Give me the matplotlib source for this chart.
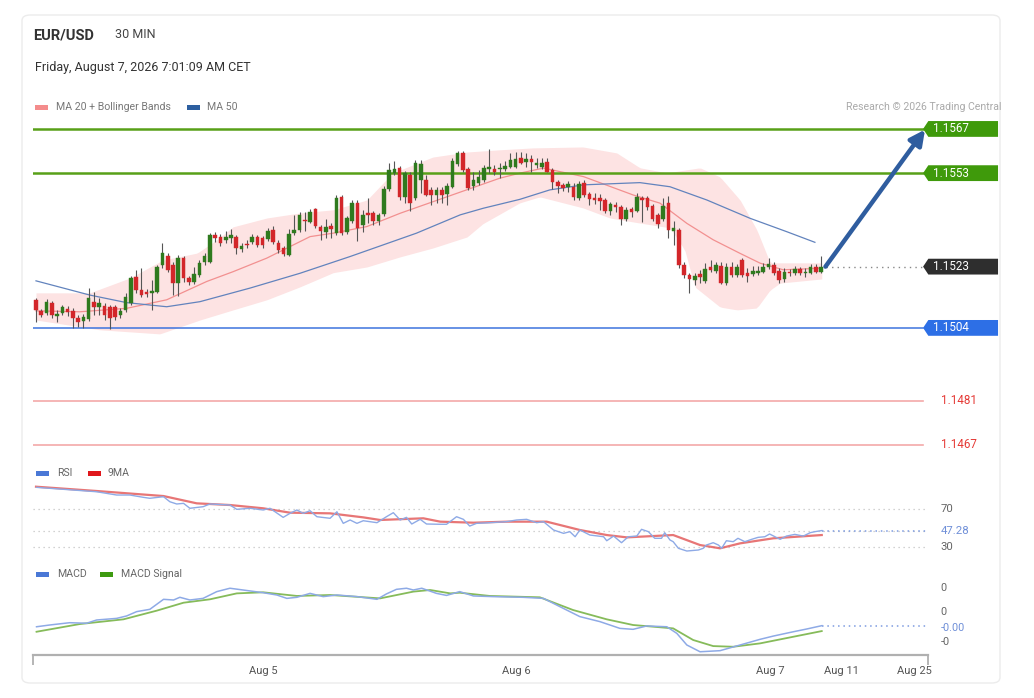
import numpy as np
import matplotlib
matplotlib.use("Agg")
import matplotlib.pyplot as plt
from matplotlib.path import Path
from matplotlib.patches import Rectangle, FancyBboxPatch

plt.rcParams['font.family'] = ['Roboto', 'DejaVu Sans']

# candle data, offsets in pips above 1.1500 (30 min bars, index 0..149)
opens = [12.9, 9.2, 8.8, 12.0, 7.9, 8.7, 10.0, 9.5, 7.2, 6.3, 6.8, 12.3, 10.5, 10.9, 10.5, 10.6, 8.1, 9.7, 12.0, 20.2,
         16.0, 15.5, 15.1, 15.5, 24.0, 26.8, 24.0, 18.2, 26.1, 19.7, 18.6, 20.8, 24.9, 25.0, 33.4, 32.7, 31.9, 32.4, 32.7, 28.9,
         30.7, 31.3, 32.7, 32.4, 32.1, 35.0, 31.0, 29.2, 27.1, 34.0, 35.0, 38.3, 37.6, 41.6, 35.9, 34.5, 36.3, 34.2, 45.4, 34.5,
         38.0, 43.7, 36.6, 40.4, 40.3, 38.0, 40.1, 47.9, 53.0, 54.6, 45.6, 52.4, 45.1, 50.9, 50.9, 47.7, 46.1, 47.7, 46.4, 48.7,
         55.9, 59.3, 54.2, 49.0, 49.8, 50.9, 54.3, 54.2, 54.2, 54.2, 55.1, 55.1, 57.7, 56.6, 57.4, 55.6, 55.1, 56.6, 54.0, 50.3,
         49.3, 48.5, 48.7, 45.1, 49.8, 46.4, 45.1, 45.1, 44.5, 41.1, 42.9, 42.4, 38.4, 41.6, 41.1, 45.1, 45.1, 42.6, 39.8, 38.4,
         43.5, 34.8, 35.0, 23.9, 20.8, 19.2, 21.1, 19.0, 23.2, 22.1, 23.6, 18.2, 23.2, 20.8, 25.5, 21.5, 21.1, 21.5, 21.8, 23.2,
         23.9, 22.1, 19.4, 21.8, 21.5, 22.6, 21.5, 21.5, 23.2, 21.8]
highs = [13.5, 10.0, 13.2, 12.5, 9.7, 11.3, 11.0, 10.3, 8.1, 8.4, 16.7, 15.4, 13.5, 11.9, 11.3, 11.3, 10.3, 15.1, 20.4, 22.4,
         23.0, 16.3, 19.2, 24.0, 30.9, 27.7, 24.9, 27.1, 26.8, 20.5, 23.3, 25.5, 27.7, 34.1, 34.4, 33.8, 34.7, 35.3, 33.4, 30.9,
         31.9, 33.8, 33.4, 33.1, 35.7, 36.3, 31.9, 29.9, 35.3, 39.8, 40.7, 40.7, 41.7, 42.0, 36.6, 38.5, 37.2, 46.1, 46.1, 39.4,
         44.5, 44.5, 41.4, 45.2, 41.0, 40.4, 48.9, 56.2, 56.9, 55.3, 53.7, 53.4, 57.2, 57.2, 52.4, 48.6, 48.6, 48.6, 49.9, 57.8,
         60.0, 60.0, 55.0, 53.4, 54.0, 55.6, 60.7, 55.6, 56.2, 56.9, 59.4, 59.7, 59.7, 59.4, 58.8, 57.8, 57.8, 57.8, 54.6, 50.9,
         49.9, 50.5, 49.9, 50.5, 50.9, 47.0, 46.7, 46.4, 45.2, 43.9, 43.9, 42.9, 42.3, 42.3, 46.7, 45.8, 45.8, 43.2, 40.4, 45.1,
         45.8, 37.9, 35.7, 24.9, 21.4, 21.4, 22.4, 24.6, 25.5, 24.9, 24.9, 24.6, 24.9, 24.2, 26.2, 22.9, 23.6, 23.6, 24.6, 26.2,
         24.9, 22.9, 22.9, 22.7, 23.6, 23.3, 23.0, 24.2, 24.2, 26.8]
lows = [5.9, 7.5, 8.1, 7.2, 5.9, 8.1, 7.8, 4.0, 4.3, 4.0, 6.2, 8.1, 8.1, 6.5, 3.7, 6.5, 7.2, 9.1, 11.3, 15.1,
        13.8, 13.8, 9.7, 15.1, 23.0, 21.7, 14.4, 14.1, 18.6, 17.6, 17.9, 20.1, 24.0, 24.6, 31.2, 29.9, 30.9, 30.9, 27.4, 28.1,
        29.3, 30.6, 29.6, 29.3, 31.5, 30.6, 27.7, 26.8, 26.8, 33.4, 34.4, 34.7, 37.2, 35.7, 31.9, 32.5, 32.5, 33.4, 33.4, 33.8,
        37.2, 31.5, 34.4, 37.2, 36.6, 36.6, 39.4, 47.4, 52.4, 44.5, 43.6, 41.0, 44.5, 46.7, 45.8, 43.0, 43.6, 43.6, 43.0, 48.3,
        55.3, 53.4, 47.7, 47.7, 49.3, 50.2, 53.1, 52.4, 51.5, 53.7, 54.7, 54.7, 55.9, 55.0, 53.4, 54.7, 54.3, 53.4, 48.0, 46.7,
        47.4, 47.0, 44.5, 44.5, 45.5, 43.0, 43.3, 41.4, 40.4, 39.8, 40.7, 36.6, 37.9, 39.1, 40.7, 37.6, 41.4, 37.9, 35.7, 37.9,
        32.5, 30.3, 23.0, 19.8, 15.1, 17.6, 18.2, 18.2, 21.7, 21.4, 17.9, 17.6, 20.1, 20.1, 20.1, 18.6, 20.5, 20.8, 21.4, 22.7,
        20.8, 18.2, 18.6, 20.5, 20.8, 20.8, 20.1, 21.1, 21.4, 21.4]
closes = [9.7, 8.1, 12.3, 8.1, 8.4, 10.6, 9.1, 7.1, 6.0, 7.6, 13.5, 10.5, 12.0, 8.1, 7.1, 7.6, 9.5, 13.9, 19.7, 16.0,
          14.4, 14.8, 15.6, 23.2, 27.6, 22.4, 18.2, 26.1, 19.7, 18.6, 21.0, 24.7, 26.8, 33.4, 32.4, 30.8, 32.9, 33.4, 29.2, 29.9,
          30.3, 32.9, 30.3, 30.3, 34.8, 31.3, 28.7, 27.4, 33.8, 35.0, 39.8, 37.7, 40.8, 36.3, 34.8, 35.9, 35.2, 45.1, 34.2, 38.7,
          43.5, 35.6, 39.8, 39.8, 38.0, 39.8, 47.9, 54.0, 54.2, 45.6, 53.0, 43.5, 56.1, 55.9, 46.1, 46.1, 47.7, 46.1, 49.0, 57.0,
          59.3, 54.0, 48.2, 50.9, 51.7, 54.6, 54.8, 53.5, 54.5, 55.3, 57.2, 57.4, 56.3, 57.4, 56.6, 56.3, 56.3, 53.5, 50.2, 49.0,
          48.2, 49.5, 45.6, 49.6, 46.1, 44.7, 44.5, 44.3, 41.1, 43.2, 42.2, 38.4, 41.4, 40.8, 45.6, 44.5, 42.2, 38.4, 36.9, 42.6,
          35.0, 35.6, 23.9, 20.8, 19.4, 20.5, 20.2, 22.6, 22.4, 23.9, 18.3, 23.2, 20.8, 23.4, 20.8, 20.5, 22.1, 22.1, 23.4, 24.3,
          21.5, 19.2, 21.8, 21.3, 22.6, 21.5, 21.7, 23.4, 21.8, 23.4]

# moving averages / bollinger bands (index, pips)
ma20_idx = [0, 8.3, 17.2, 24.8, 32.4, 37.4, 43.8, 52.0, 56.4, 62.8, 69.1, 75.4, 81.7, 88.0, 91.8, 96.3, 103.9,
            113.3, 118.4, 123.5, 128.5, 133.6, 137.4, 141.8, 149]
ma20_val = [9.4, 9.1, 10.2, 12.9, 18.7, 21.8, 26.1, 32.9, 34.0, 36.1, 40.3, 44.0, 47.7, 51.4, 53.0, 54.6, 51.9,
            46.1, 43.5, 37.1, 31.9, 27.6, 24.5, 22.4, 22.9]
ma50_idx = [0, 10.2, 17.2, 24.8, 31.1, 40.6, 50.1, 59.6, 65.9, 72.2, 80.5, 84.9, 91.8, 97.5, 103.9, 114.6, 120.3,
            127.3, 135.5, 142.4, 147.8]
ma50_val = [18.9, 14.4, 12.0, 10.7, 12.3, 16.6, 21.3, 26.6, 30.3, 34.0, 39.8, 41.9, 44.7, 47.7, 49.3, 50.0, 48.7,
            44.5, 38.7, 34.5, 31.1]
bb_up_idx = [0, 10.2, 17.8, 24.1, 30.6, 34.3, 37.4, 43.8, 50.1, 56.4, 62.8, 67.7, 75.3, 81.8, 88.0, 94.3, 103.8,
             110.2, 114.6, 119.7, 126.0, 129.8, 133.6, 136.8, 139.3, 149.1]
bb_up_val = [15.1, 15.1, 19.8, 25.5, 27.7, 31.9, 36.0, 38.8, 40.4, 41.4, 44.5, 53.1, 58.1, 59.7, 60.4, 61.0, 61.3,
             59.4, 54.7, 53.1, 54.7, 51.8, 44.5, 35.0, 24.6, 24.6]
bb_lo_idx = [0, 12.1, 23.5, 31.1, 37.4, 43.8, 50.1, 56.4, 62.8, 69.1, 75.3, 81.8, 84.8, 91.8, 95.6, 103.8, 108.9,
             114.6, 120.3, 123.1, 125.0, 129.8, 133.0, 136.8, 139.3, 141.2, 149.1]
bb_lo_val = [6.5, 3.4, 2.1, 6.5, 9.7, 12.9, 17.0, 21.5, 23.3, 26.5, 29.3, 32.8, 37.0, 43.6, 45.5, 42.0, 38.8,
             37.2, 35.7, 28.7, 17.0, 10.6, 9.7, 10.3, 16.0, 18.2, 19.5]

# RSI and its 9 period MA
rsi_idx = [0.1, 5.2, 11.5, 15.3, 17.8, 20.4, 21.6, 24.2, 25.4, 26.7, 28.0, 29.2, 31.7, 33.0, 36.8, 38.1, 40.6, 43.1,
           44.4, 46.9, 48.2, 49.5, 50.7, 52.0, 53.3, 55.8, 57.1, 58.3, 59.6, 60.9, 62.1, 64.7, 66.5, 67.8, 69.1, 70.3,
           71.3, 72.9, 74.1, 76.7, 77.9, 79.8, 81.1, 82.3, 83.6, 86.1, 89.3, 91.2, 93.1, 95.0, 96.3, 98.2, 100.1, 101.3,
           102.3, 103.2, 105.1, 107.7, 108.3, 109.6, 111.1, 112.4, 114.0, 114.9, 116.2, 117.4, 118.7, 119.3, 120.3, 120.9,
           121.9, 123.5, 125.7, 126.6, 127.2, 128.5, 129.5, 130.1, 131.0, 132.3, 133.2, 134.5, 135.8, 137.0, 138.3, 139.2,
           141.2, 142.4, 144.0, 145.6, 146.9, 147.8, 149.1]
rsi_val = [93.5, 91.4, 88.8, 85.3, 85.3, 82.8, 81.8, 83.5, 78.1, 75.7, 76.4, 71.1, 72.8, 75.7, 74.6, 70.0, 71.1, 69.3,
           71.1, 61.4, 65.7, 69.3, 65.7, 68.5, 62.1, 60.4, 67.4, 55.0, 58.6, 55.0, 57.8, 55.7, 62.1, 66.4, 58.6, 61.4,
           54.3, 59.3, 54.3, 54.0, 54.0, 62.1, 59.3, 52.1, 55.0, 55.7, 56.8, 58.6, 59.3, 55.7, 56.8, 47.9, 44.3, 46.1,
           40.7, 47.9, 42.5, 40.7, 36.4, 41.4, 34.3, 40.7, 41.4, 48.6, 46.1, 39.0, 39.0, 45.0, 37.2, 35.4,
           28.3, 25.4, 26.5, 28.3, 31.8, 34.3, 31.8, 28.3, 36.4, 35.4, 39.0, 35.4, 37.9, 40.0, 40.7, 43.6,
           37.9, 41.4, 43.2, 41.4, 45.0, 46.1, 47.28]
rsi_ma_idx = [0, 11.5, 24.2, 30.5, 36.8, 43.1, 48.2, 55.8, 62.1, 65.3, 73.5, 76.7, 83.0, 89.3, 96.9, 103.2, 108.3,
              112.1, 120.9, 126.0, 129.8, 133.6, 139.9, 149.1]
rsi_ma_val = [94.2, 89.6, 84.2, 76.4, 74.6, 71.1, 66.4, 65.7, 61.4, 58.6, 60.4, 56.8, 55.7, 56.8, 56.8, 47.9, 42.5,
              40.0, 42.5, 31.8, 28.3, 33.6, 39.0, 42.5]

# MACD and signal (pips)
macd_idx = [0.1, 2.6, 6.4, 9.6, 11.5, 15.3, 17.2, 19.1, 21.6, 24.2, 26.1, 27.3, 29.2, 31.7, 34.3, 36.8, 39.3, 43.1,
            45.7, 47.6, 49.5, 52.0, 54.5, 57.1, 60.9, 64.7, 66.5, 68.4, 70.3, 71.6, 73.2, 76.0, 77.9, 80.4, 83.0, 86.7,
            92.4, 96.3, 99.4, 103.2, 107.0, 110.8, 113.3, 115.9, 119.7, 121.6, 123.5, 126.0, 129.8, 133.6, 137.4,
            139.9, 143.7, 146.2, 149.1]
macd_val = [-0.87, -0.74, -0.57, -0.61, -0.37, -0.25, -0.07, 0.25, 0.42, 1.16, 1.11, 1.31, 1.11, 1.23, 1.73, 1.98,
            1.85, 1.65, 1.48, 1.23, 1.31, 1.60, 1.36, 1.48, 1.36, 1.16, 1.56, 1.90, 1.98, 1.85, 1.98, 1.60, 1.45, 1.73,
            1.41, 1.36, 1.31, 1.23, 0.62, -0.12, -0.49, -0.99, -1.06, -0.81, -0.87, -1.36, -2.22, -2.72, -2.64, -2.22,
            -1.80, -1.56, -1.24, -1.04, -0.79]
signal_idx = [0.1, 8.3, 16.6, 22.9, 28.0, 33.0, 38.1, 43.1, 49.5, 55.8, 65.3, 71.6, 74.8, 78.6, 80.4, 86.1, 95.6,
              101.9, 108.3, 113.3, 120.9, 124.7, 128.5, 132.3, 137.4, 143.7, 149.1]
signal_val = [-1.24, -0.67, -0.32, 0.32, 0.91, 1.16, 1.60, 1.68, 1.41, 1.48, 1.23, 1.73, 1.85, 1.60, 1.65, 1.41,
              1.31, 0.37, -0.32, -0.74, -0.99, -1.85, -2.30, -2.35, -2.10, -1.61, -1.19]

# key levels
resist_levels = [1.1567, 1.1553]
support_level = 1.1504
lower_levels = [1.1481, 1.1467]
target_level = 1.1567

tick_pos = [43.1, 91.1, 139.3, 152.9, 166.6]
tick_labels = ["Aug 5", "Aug 6", "Aug 7", "Aug 11", "Aug 25"]

BASE = 1.15
PIP = 0.0001
W, H = 1034, 698


def pr(a):
    return BASE + np.asarray(a) * PIP


def add_axes_px(x0, y0, x1, y1):
    return fig.add_axes([x0 / W, 1 - y1 / H, (x1 - x0) / W, (y1 - y0) / H])


def tag_shape(x0, y0, width, height, mutation_size):
    s = mutation_size
    top = y0 + height + 0.12 * s
    bot = y0 - 0.12 * s
    left = x0 - 0.4 * s
    right = x0 + width + 2.5 * s
    tip = left - 0.45 * s
    mid = (top + bot) / 2
    return Path([(tip, mid), (left, bot), (right, bot), (right, top), (left, top), (tip, mid)], closed=True)


def ftext(x, y, s, **kw):
    fig.text(x / W, 1 - y / H, s, va='center', **kw)


def legend_key(x, y, color):
    fig.add_artist(Rectangle((x / W, 1 - (y + 3) / H), 13 / W, 5 / H, transform=fig.transFigure,
                             color=color, lw=0))


fig = plt.figure(figsize=(W / 100, H / 100), dpi=100)
fig.patch.set_facecolor('white')
fig.add_artist(FancyBboxPatch((22 / W, 1 - 683 / H), 978 / W, 668 / H, boxstyle="round,pad=0,rounding_size=0.008",
                              transform=fig.transFigure, fc='none', ec='#ececec', lw=1, zorder=-5))

idx = np.arange(len(closes))
o, h, l, c = pr(opens), pr(highs), pr(lows), pr(closes)
up = c >= o
xlim = ((33 - 36) / 5.27, (928 - 36) / 5.27)

# ---------------- main price panel ----------------
ax = add_axes_px(33, 116, 928, 452)
ax.set_xlim(*xlim)
ax.set_ylim(pr(-35.3), pr(71.1))
ax.axis('off')

up_x = np.linspace(0, 149.1, 300)
ax.fill_between(up_x, pr(np.interp(up_x, bb_lo_idx, bb_lo_val)), pr(np.interp(up_x, bb_up_idx, bb_up_val)),
                color='#fde3e3', lw=0, zorder=1)
ax.plot(ma20_idx, pr(ma20_val), color='#f29090', lw=0.9, zorder=2)
ax.plot(ma50_idx, pr(ma50_val), color='#6283bd', lw=0.9, zorder=2)

cols = np.where(up, '#2f7a1e', '#d3262a')
ax.vlines(idx, l, h, color='#555555', lw=0.8, zorder=3)
ax.bar(idx, np.maximum(np.abs(c - o), 0.000012), bottom=np.minimum(o, c), width=0.68,
       color=cols, edgecolor=cols, lw=0.3, zorder=4)

line_end = (923 - 33) / 895
for lv in resist_levels:
    ax.axhline(lv, xmax=line_end, color='#58a018', lw=1.8, zorder=2)
ax.axhline(support_level, xmax=line_end, color='#3d74de', lw=1.1, zorder=2)
for lv in lower_levels:
    ax.axhline(lv, xmax=line_end, color='#f4a9a9', lw=1.2, zorder=2)

last = c[-1]
ax.plot([idx[-1] + 1, xlim[1] - 1], [last, last], color='#888888', lw=1, ls=(0, (1, 3)), zorder=2)

ax.annotate('', xy=(168.7, target_level - 0.00002), xytext=(idx[-1] + 0.8, last),
            arrowprops=dict(arrowstyle='-|>,head_length=0.9,head_width=0.45', color='#2f5d9f', lw=3.2,
                            shrinkA=0, shrinkB=0), zorder=6)


def tag(axis, y, text, fc, tc='white'):
    axis.annotate(text, xy=(1, y), xycoords=('axes fraction', 'data'), xytext=(3.6, 0),
                  textcoords='offset points', va='center', ha='left', fontsize=8.4, color=tc,
                  bbox=dict(boxstyle=tag_shape, fc=fc, ec='none'), annotation_clip=False)


for lv in resist_levels:
    tag(ax, lv, f"{lv:.4f}", '#3f9a0b')
tag(ax, last, f"{last:.4f}", '#2e2e2e')
tag(ax, support_level, f"{support_level:.4f}", '#2d6fe6')
for lv in lower_levels:
    ax.annotate(f"{lv:.4f}", xy=(1, lv), xycoords=('axes fraction', 'data'), xytext=(9, 0),
                textcoords='offset points', va='center', ha='left', fontsize=8.4, color='#e53935',
                annotation_clip=False)

# ---------------- RSI panel ----------------
ax_rsi = add_axes_px(33, 478, 928, 560)
ax_rsi.set_xlim(*xlim)
ax_rsi.set_ylim(15.8, 103.5)
ax_rsi.axis('off')
for lv in [70, rsi_val[-1], 30]:
    ax_rsi.axhline(lv, color='#c4c4c4', lw=0.9, ls=(0, (1, 3)))
ax_rsi.plot([rsi_idx[-1], xlim[1]], [rsi_val[-1]] * 2, color='#7d9be0', lw=1.1, ls=(0, (1, 2.5)))
ax_rsi.plot(rsi_ma_idx, rsi_ma_val, color='#e04848', lw=1.6, alpha=0.75, zorder=3)
ax_rsi.plot(rsi_idx, rsi_val, color='#8eaae6', lw=1.0, zorder=4)
for lv, txt, col in [(70, "70", '#666666'), (rsi_val[-1], f"{rsi_val[-1]:.2f}", '#6f8fd8'), (30, "30", '#666666')]:
    ax_rsi.annotate(txt, xy=(1, lv), xycoords=('axes fraction', 'data'), xytext=(9, 0),
                    textcoords='offset points', va='center', ha='left', fontsize=8.2, color=col,
                    annotation_clip=False)

# ---------------- MACD panel ----------------
ax_m = add_axes_px(33, 580, 928, 655)
ax_m.set_xlim(*xlim)
ax_m.set_ylim(-2.96 * PIP, 2.59 * PIP)
for sp in ['top', 'right', 'left']:
    ax_m.spines[sp].set_visible(False)
ax_m.spines['bottom'].set_color('#b0b0b0')
ax_m.spines['bottom'].set_linewidth(1.6)
ax_m.set_yticks([])
ax_m.set_xticks(tick_pos)
ax_m.set_xticklabels(tick_labels, fontsize=8, color='#555555')
ax_m.tick_params(axis='x', which='major', length=0, pad=8)
ax_m.set_xticks(list(xlim), minor=True)
ax_m.tick_params(axis='x', which='minor', length=7, width=1.3, color='#b0b0b0')

ax_m.plot(signal_idx, np.array(signal_val) * PIP, color='#86bb5a', lw=1.3, zorder=3)
ax_m.plot(macd_idx, np.array(macd_val) * PIP, color='#8eaae6', lw=1.1, zorder=4)
ax_m.plot([macd_idx[-1], xlim[1]], [macd_val[-1] * PIP] * 2, color='#7d9be0', lw=1.1, ls=(0, (1, 2.5)))
# the zero tick sits just above the current value label, as in the source chart
for v, dy in [(2 * PIP, 0), (0.0, 2), (-2 * PIP, 0)]:
    ax_m.annotate(f"{v:.0f}", xy=(1, v), xycoords=('axes fraction', 'data'), xytext=(9, dy),
                  textcoords='offset points', va='center', ha='left', fontsize=7.8, color='#666666',
                  annotation_clip=False)
ax_m.annotate(f"{macd_val[-1] * PIP:.2f}", xy=(1, macd_val[-1] * PIP), xycoords=('axes fraction', 'data'),
              xytext=(9, -1.5), textcoords='offset points', va='center', ha='left', fontsize=7.8,
              color='#6f8fd8', annotation_clip=False)

# ---------------- header and legends ----------------
ftext(33, 35, "EUR/USD", fontsize=10.5, fontweight='bold', color='#333333')
ftext(115, 35, "30 MIN", fontsize=9, color='#444444')
ftext(35, 67, "Friday, August 7, 2026 7:01:09 AM CET", fontsize=9, color='#333333')

legend_key(35, 107, '#f48c8c')
ftext(56, 107, "MA 20 + Bollinger Bands", fontsize=7.6, color='#777777')
legend_key(187, 107, '#2d5fa0')
ftext(207, 107, "MA 50", fontsize=7.6, color='#777777')
ftext(1001, 107, "Research \u00a9 2026 Trading Central", fontsize=7.6, color='#aaaaaa', ha='right')

legend_key(36, 473, '#4a78d6')
ftext(57, 473, "RSI", fontsize=7.6, color='#666666')
legend_key(88, 473, '#e0171c')
ftext(108, 473, "9MA", fontsize=7.6, color='#666666')
legend_key(36, 574, '#4a78d6')
ftext(57, 574, "MACD", fontsize=7.6, color='#666666')
legend_key(100, 574, '#3d9a10')
ftext(121, 574, "MACD Signal", fontsize=7.6, color='#666666')

fig.savefig("out.png", dpi=100)
